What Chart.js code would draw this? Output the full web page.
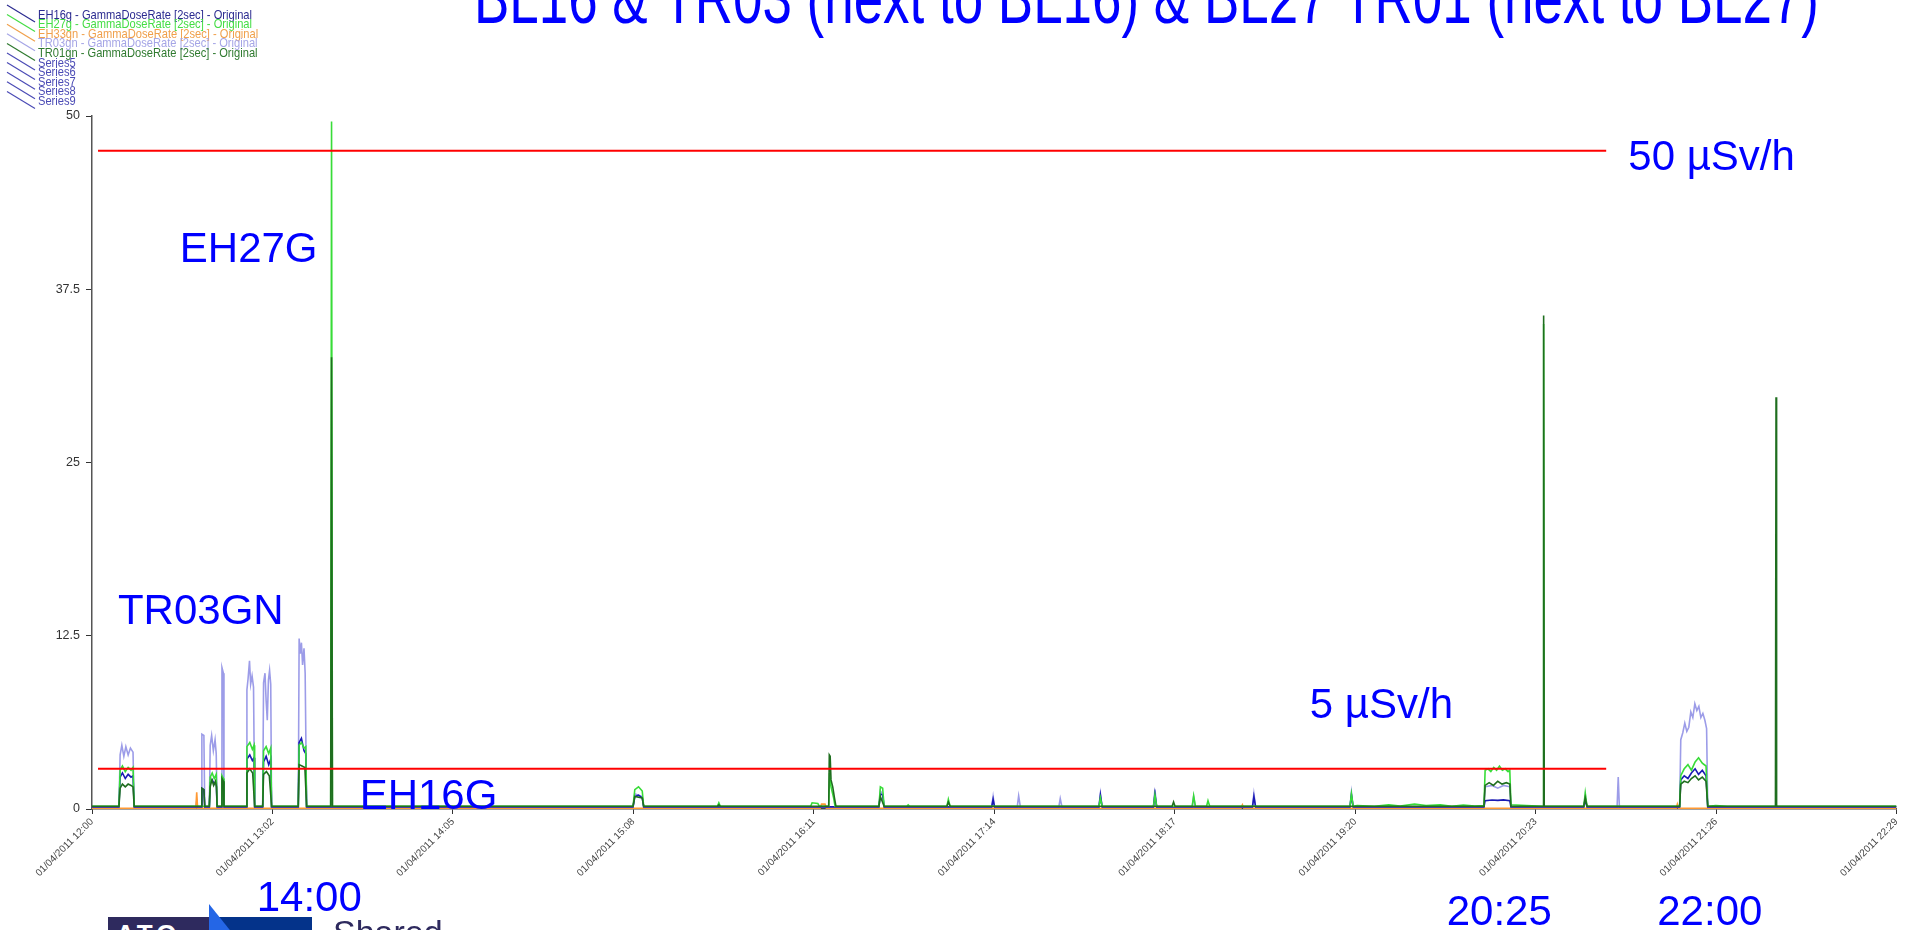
<!DOCTYPE html>
<html>
<head>
<meta charset="utf-8">
<script src="https://cdn.jsdelivr.net/npm/chart.js@4.4.0/dist/chart.umd.min.js"></script>
<style>
  html, body { margin: 0; padding: 0; background: #fff; overflow: hidden; }
  #wrap { position: relative; width: 1907px; height: 930px; overflow: hidden; }
  .logo-a { position: absolute; left: 108px; top: 917px; width: 101px; height: 20px; background: #2e2a5e; }
  .logo-b { position: absolute; left: 209px; top: 917px; width: 103px; height: 20px; background: #04338a; }
  .logo-c { position: absolute; left: 209px; top: 904px; width: 30px; height: 30px; background: #2466e6;
            clip-path: polygon(0 0, 0 100%, 80% 100%); }
  .logo-t { position: absolute; left: 116px; top: 919px; font: bold 26px "Liberation Sans", Arial, sans-serif;
            color: #fff; letter-spacing: 4px; }
  .logo-s { position: absolute; left: 333px; top: 913px; font: 34px "Liberation Sans", Arial, sans-serif; color: #2e2a5e; }
</style>
</head>
<body>
<div id="wrap">
  <canvas id="doseChart" width="1907" height="930"></canvas>
  <div class="logo-a"></div><div class="logo-b"></div><div class="logo-c"></div>
  <div class="logo-t">ATO</div>
  <div class="logo-s">Shared</div>
</div>
<script>
// minutes after 01/04/2011 12:00
const tickMinutes = [0, 62.9, 125.8, 188.7, 251.6, 314.5, 377.4, 440.3, 503.2, 566.1, 629];
const tickLabels = ['01/04/2011 12:00', '01/04/2011 13:02', '01/04/2011 14:05', '01/04/2011 15:08',
  '01/04/2011 16:11', '01/04/2011 17:14', '01/04/2011 18:17', '01/04/2011 19:20',
  '01/04/2011 20:23', '01/04/2011 21:26', '01/04/2011 22:29'];

// [minute, µSv/h]
const eh16g = [[0,0.15],[9.4,0.15],[9.8,2.3],[10.6,2.6],[11.6,2.2],[12.6,2.5],[13.6,2.3],[14.3,2.4],[14.7,0.15],
  [38.1,0.15],[38.3,1.5],[39.0,1.4],[39.3,0.15],[40.9,0.15],[41.2,1.9],[41.9,2.1],[42.6,1.8],[43.3,2.0],[43.6,0.15],
  [45.0,0.15],[45.3,2.0],[45.8,1.9],[46.0,0.15],
  [53.7,0.15],[54.0,3.6],[55.0,3.9],[55.9,3.5],[56.5,3.7],[56.7,0.15],
  [59.5,0.15],[59.8,3.4],[60.7,3.8],[61.6,3.2],[62.3,3.6],[62.6,0.15],
  [71.9,0.15],[72.2,4.8],[73.0,5.1],[73.9,4.2],[74.5,4.0],[74.8,0.15],
  [188.6,0.15],[189.2,0.9],[190.5,1.0],[191.8,0.8],[192.3,0.15],
  [274.3,0.15],[274.8,1.1],[275.6,1.0],[276.1,0.15],
  [313.6,0.15],[314.1,0.7],[314.6,0.15],
  [351.0,0.15],[351.5,1.0],[352.1,0.15],
  [370.0,0.15],[370.5,1.1],[371.1,0.15],
  [404.5,0.15],[405.0,0.9],[405.6,0.15],
  [438.5,0.15],[439.0,1.0],[439.6,0.15],
  [485.2,0.15],[485.6,0.6],[488.0,0.65],[490.0,0.62],[492.0,0.66],[494.2,0.6],[494.6,0.15],
  [520.0,0.15],[520.5,0.7],[521.1,0.15],
  [553.4,0.15],[553.8,2.1],[555.0,2.4],[556.3,2.2],[557.5,2.6],[558.8,2.9],[560.0,2.5],[561.3,2.8],[562.6,2.4],[563.2,0.15],
  [629,0.15]];

const eh27g = [[0,0.2],[9.4,0.2],[9.8,2.8],[10.6,3.1],[11.6,2.7],[12.6,3.0],[13.6,2.8],[14.3,3.0],[14.7,0.2],
  [40.9,0.2],[41.2,2.3],[41.9,2.6],[42.6,2.2],[43.3,2.5],[43.6,0.2],
  [45.0,0.2],[45.3,2.4],[45.8,2.2],[46.0,0.2],
  [53.7,0.2],[54.0,4.5],[55.0,4.8],[55.9,4.3],[56.5,4.6],[56.7,0.2],
  [59.5,0.2],[59.8,4.2],[60.7,4.5],[61.6,4.0],[62.3,4.4],[62.6,0.2],
  [71.9,0.2],[72.2,4.6],[73.0,4.8],[73.9,4.4],[74.5,4.5],[74.8,0.2],
  [83.2,0.2],[83.5,49.6],[83.8,0.2],
  [188.6,0.2],[189.2,1.4],[190.5,1.6],[191.8,1.3],[192.3,0.2],
  [218.0,0.2],[218.5,0.45],[219.0,0.2],
  [250.5,0.2],[251.0,0.45],[253.0,0.4],[253.5,0.2],
  [256.8,0.2],[257.1,2.6],[257.6,1.6],[258.5,0.8],[259.0,0.2],
  [274.3,0.2],[274.8,1.6],[275.6,1.5],[276.1,0.2],
  [284.0,0.2],[284.5,0.3],[285.0,0.2],
  [298.0,0.2],[298.5,0.7],[299.1,0.2],
  [351.0,0.2],[351.5,0.8],[352.1,0.2],
  [370.0,0.2],[370.5,1.0],[371.1,0.2],
  [383.5,0.2],[384.0,0.95],[384.6,0.2],
  [388.5,0.2],[389.0,0.6],[389.6,0.2],
  [438.5,0.2],[439.0,1.1],[439.6,0.2],
  [441,0.25],[447,0.2],[452,0.3],[456,0.22],[461,0.35],[465,0.25],[470,0.3],[474,0.2],[478,0.28],[482,0.22],
  [485.2,0.25],[485.6,2.8],[486.6,2.9],[487.6,2.7],[488.6,3.0],[489.6,2.8],[490.6,3.1],[491.6,2.8],[492.6,2.9],[493.6,2.7],[494.2,2.8],[494.6,0.3],
  [500.0,0.25],[505.8,0.2],[506.0,35.0],[506.2,0.2],
  [520.0,0.2],[520.5,1.15],[521.1,0.2],
  [553.4,0.2],[553.8,2.4],[555.0,2.9],[556.3,3.2],[557.5,2.8],[558.8,3.4],[560.0,3.7],[561.3,3.3],[562.6,3.1],[563.2,0.2],
  [566,0.25],[570,0.2],[629,0.2]];

const eh33gn = [[0,0.05],[36.2,0.05],[36.5,1.2],[36.8,0.05],[253.8,0.05],[254.3,0.35],[255.5,0.35],[256.0,0.05],
  [400.5,0.05],[401.0,0.3],[401.5,0.05],[552.2,0.05],[552.6,0.35],[553.0,0.05],[629,0.05]];

const tr03gn = [[0,0.15],[9.4,0.15],[9.8,3.9],[10.4,4.6],[11.1,3.8],[11.8,4.5],[12.6,3.9],[13.4,4.4],[14.3,4.1],[14.7,0.15],
  [36.2,0.15],[36.5,0.6],[36.8,0.15],
  [38.1,0.15],[38.3,5.4],[39.0,5.3],[39.3,0.15],
  [40.9,0.15],[41.2,4.6],[41.7,5.3],[42.3,4.2],[42.9,5.0],[43.3,4.0],[43.6,0.15],
  [45.0,0.15],[45.3,10.2],[45.8,9.8],[46.0,0.15],
  [53.7,0.15],[54.0,8.6],[54.4,9.4],[54.9,10.7],[55.3,9.0],[55.8,9.6],[56.3,8.8],[56.7,0.15],
  [59.5,0.15],[59.8,9.1],[60.3,9.8],[60.7,7.8],[61.1,6.4],[61.5,9.3],[61.9,10.0],[62.3,9.0],[62.6,0.15],
  [71.9,0.15],[72.2,12.3],[72.6,11.2],[73.0,12.0],[73.4,10.4],[73.9,11.6],[74.3,9.8],[74.8,0.15],
  [188.6,0.15],[189.2,1.1],[191.8,0.9],[192.3,0.15],
  [274.3,0.15],[274.8,1.3],[275.6,1.1],[276.1,0.15],
  [313.6,0.15],[314.1,0.9],[314.6,0.15],
  [322.5,0.15],[323.0,0.95],[323.6,0.15],
  [337.0,0.15],[337.5,0.75],[338.1,0.15],
  [351.0,0.15],[351.5,1.1],[352.1,0.15],
  [370.0,0.15],[370.5,1.4],[371.1,0.15],
  [383.5,0.15],[384.0,0.9],[384.6,0.15],
  [404.5,0.15],[405.0,1.1],[405.6,0.15],
  [438.5,0.15],[439.0,1.2],[439.6,0.15],
  [485.2,0.15],[485.6,1.6],[488.0,1.7],[490.0,1.5],[492.0,1.7],[494.2,1.6],[494.6,0.15],
  [520.0,0.15],[520.5,1.0],[521.1,0.15],
  [531.6,0.15],[532.0,2.3],[532.4,0.15],
  [553.4,0.15],[553.8,5.0],[554.5,5.5],[555.2,6.2],[555.9,5.6],[556.6,5.9],[557.3,7.0],[558.0,6.6],[558.7,7.6],
  [559.4,7.1],[560.1,7.4],[560.8,6.6],[561.5,6.9],[562.2,6.4],[562.8,5.8],[563.2,0.15],
  [629,0.15]];

const tr01gn = [[0,0.2],[9.4,0.2],[9.8,1.5],[10.6,1.8],[11.6,1.6],[12.6,1.8],[13.6,1.7],[14.3,1.6],[14.7,0.2],
  [38.1,0.2],[38.3,1.5],[39.0,1.4],[39.3,0.2],
  [40.9,0.2],[41.2,1.6],[41.8,2.1],[42.4,1.7],[43.0,2.0],[43.4,1.6],[43.6,0.2],
  [45.0,0.2],[45.3,2.2],[45.8,2.0],[46.0,0.2],
  [53.7,0.2],[54.0,2.6],[55.0,2.9],[56.0,2.6],[56.7,0.2],
  [59.5,0.2],[59.8,2.5],[60.8,2.7],[61.8,2.4],[62.6,0.2],
  [71.9,0.2],[72.2,3.2],[73.2,3.1],[74.2,3.0],[74.8,0.2],
  [83.2,0.2],[83.5,32.6],[83.8,0.2],
  [188.6,0.2],[189.2,0.9],[191.8,0.8],[192.3,0.2],
  [218.0,0.2],[218.5,0.3],[219.0,0.2],
  [256.8,0.2],[257.0,3.9],[257.3,3.8],[257.6,2.1],[258.2,1.6],[258.8,0.8],[259.3,0.2],
  [274.3,0.2],[274.8,0.9],[276.1,0.2],
  [298.0,0.2],[298.5,0.5],[299.1,0.2],
  [376.5,0.2],[377.0,0.5],[377.5,0.2],
  [485.2,0.2],[485.6,1.7],[487.0,1.9],[488.5,1.7],[490.0,2.0],[491.5,1.8],[493.0,1.9],[494.2,1.8],[494.6,0.2],
  [505.8,0.2],[506.0,35.6],[506.2,0.2],
  [520.0,0.2],[520.5,0.8],[521.1,0.2],
  [553.4,0.2],[553.8,1.8],[555.0,2.0],[556.3,1.9],[557.5,2.2],[558.8,2.4],[560.0,2.1],[561.3,2.3],[562.6,2.0],[563.2,0.2],
  [586.8,0.2],[587.0,29.7],[587.2,0.2],[629,0.2]];

// hand-drawn limit lines: level and time span
const limitLevels = [47.5, 2.9];
const limitSpan = [2.1, 527.8];

const legendNames = ['EH16g - GammaDoseRate [2sec] - Original', 'EH27g - GammaDoseRate [2sec] - Original',
  'EH33gn - GammaDoseRate [2sec] - Original', 'TR03gn - GammaDoseRate [2sec] - Original',
  'TR01gn - GammaDoseRate [2sec] - Original', 'Series5', 'Series6', 'Series7', 'Series8', 'Series9'];

const titleText = 'BL16 & TR03 (next to BL16) & BL27 TR01 (next to BL27)';

// text notes placed in data units [minute, value]
const notes = [
  { text: 'EH27G', at: [30.6, 39.45] },
  { text: 'TR03GN', at: [9.05, 13.35] },
  { text: 'EH16G', at: [93.3, 0] },
  { text: '5 µSv/h', at: [424.5, 6.6] },
  { text: '50 µSv/h', at: [535.5, 46.1] },
  { text: '14:00', at: [57.4, -7.35] },
  { text: '20:25', at: [472.2, -8.35] },
  { text: '22:00', at: [545.6, -8.35] }
];

const seriesColors = ['#1a1ab4', '#38dc38', '#ff9933', '#9c9ce8', '#1f6e1f'];
const legendColors = ['#2b2b90', '#44dd44', '#f0a04b', '#a5a5e6', '#2f7a2f', '#4b4bb5', '#4b4bb5', '#4b4bb5', '#4b4bb5', '#4b4bb5'];

const toXY = arr => arr.map(p => ({ x: p[0], y: p[1] }));
const seriesData = [eh16g, eh27g, eh33gn, tr03gn, tr01gn];
const drawOrder = [2, 1, 3, 4, 0];

const datasets = seriesData.map((d, i) => ({
  label: legendNames[i],
  data: toXY(d),
  borderColor: seriesColors[i],
  borderWidth: 1.6,
  pointRadius: 0,
  tension: 0,
  order: drawOrder[i]
}));
limitLevels.forEach(v => {
  datasets.push({
    label: 'limit',
    data: limitSpan.map(x => ({ x: x, y: v })),
    borderColor: '#ff0000',
    borderWidth: 2,
    pointRadius: 0,
    order: -1
  });
});

const overlay = {
  id: 'overlay',
  afterDraw(chart) {
    const ctx = chart.ctx;
    const xs = chart.scales.x, ys = chart.scales.y;
    ctx.save();
    // title, tall and narrow, cut at the top
    ctx.fillStyle = '#0000ff';
    ctx.font = '72px "Liberation Sans", Arial, sans-serif';
    ctx.textBaseline = 'alphabetic';
    const tw = ctx.measureText(titleText).width;
    ctx.save();
    ctx.translate(474, 23);
    ctx.scale(1345 / tw, 1);
    ctx.fillText(titleText, 0, 0);
    ctx.restore();

    // notes
    ctx.font = '42px "Liberation Sans", Arial, sans-serif';
    ctx.textAlign = 'left';
    notes.forEach(n => {
      ctx.fillText(n.text, xs.getPixelForValue(n.at[0]), ys.getPixelForValue(n.at[1]));
    });

    // legend with slanted line keys, text a little condensed
    ctx.font = '13px "Liberation Sans", Arial, sans-serif';
    ctx.textBaseline = 'middle';
    const lw = ctx.measureText(legendNames[0]).width;
    legendNames.forEach((name, i) => {
      const cy = 15 + i * 9.6;
      ctx.strokeStyle = legendColors[i];
      ctx.lineWidth = 1.2;
      ctx.beginPath();
      ctx.moveTo(7, cy - 10);
      ctx.lineTo(35, cy + 7);
      ctx.stroke();
      ctx.fillStyle = legendColors[i];
      ctx.save();
      ctx.translate(38, cy);
      ctx.scale(214 / lw, 1);
      ctx.fillText(name, 0, 0);
      ctx.restore();
    });
    ctx.restore();
  }
};

new Chart(document.getElementById('doseChart').getContext('2d'), {
  type: 'line',
  data: { datasets: datasets },
  options: {
    responsive: false,
    devicePixelRatio: 1,
    animation: false,
    layout: { autoPadding: false, padding: { top: 116, right: 7, left: 0, bottom: 0 } },
    plugins: { legend: { display: false }, tooltip: { enabled: false }, title: { display: false } },
    scales: {
      x: {
        type: 'linear',
        min: 0,
        max: 629,
        afterBuildTicks: s => { s.ticks = tickMinutes.map(v => ({ value: v })); },
        afterFit: s => { s.height = 121; },
        ticks: {
          callback: (v, i) => tickLabels[i],
          maxRotation: 45,
          minRotation: 45,
          autoSkip: false,
          font: { family: '"Liberation Sans", Arial, sans-serif', size: 10 },
          color: '#444',
          padding: 2
        },
        grid: { drawOnChartArea: false, tickLength: 5, color: '#333' },
        border: { color: '#444', width: 1.5 }
      },
      y: {
        min: 0,
        max: 50,
        afterFit: s => { s.width = 92; },
        ticks: {
          stepSize: 12.5,
          font: { family: '"Liberation Sans", Arial, sans-serif', size: 12.5 },
          color: '#333',
          padding: 6
        },
        grid: { drawOnChartArea: false, tickLength: 6, color: '#333' },
        border: { color: '#555', width: 1.5 }
      }
    }
  },
  plugins: [overlay]
});
</script>
</body>
</html>
